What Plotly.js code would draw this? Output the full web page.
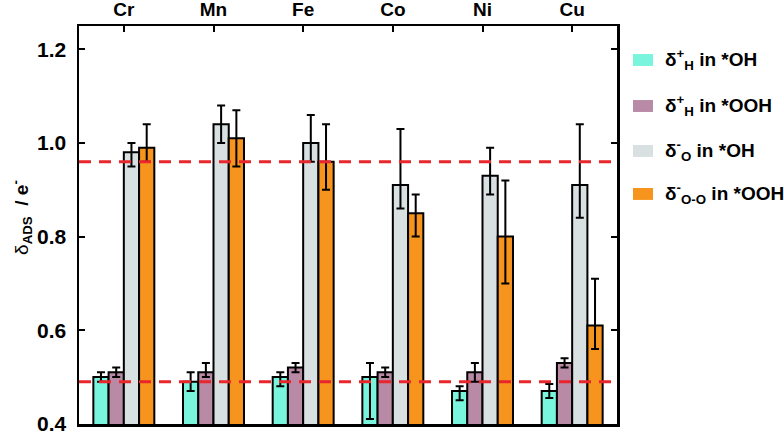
<!DOCTYPE html>
<html>
<head>
<meta charset="utf-8">
<script src="https://cdn.plot.ly/plotly-3.0.1.min.js"></script>
<style>html,body{margin:0;padding:0;background:#fff;}#chart{width:784px;height:434px;}</style>
</head>
<body>
<div id="chart"></div>
<script>
const categories = ['Cr', 'Mn', 'Fe', 'Co', 'Ni', 'Cu'];

const seriesNames = ['δ<sup>+</sup><sub>H</sub> in *OH', 'δ<sup>+</sup><sub>H</sub> in *OOH', 'δ<sup>-</sup><sub>O</sub> in *OH', 'δ<sup>-</sup><sub>O-O</sub> in *OOH'];
const seriesColors = ['#78f5dc', '#b88aa6', '#d8e0e1', '#f7941d'];

const hInOH = [0.50, 0.49, 0.50, 0.50, 0.47, 0.47];
const hInOHPlus = [0.01, 0.02, 0.01, 0.03, 0.01, 0.015];
const hInOHMinus = [0.01, 0.02, 0.02, 0.09, 0.02, 0.015];

const hInOOH = [0.51, 0.51, 0.52, 0.51, 0.51, 0.53];
const hInOOHPlus = [0.01, 0.02, 0.01, 0.01, 0.02, 0.01];
const hInOOHMinus = [0.01, 0.01, 0.01, 0.01, 0.02, 0.01];

const oInOH = [0.98, 1.04, 1.00, 0.91, 0.93, 0.91];
const oInOHPlus = [0.02, 0.04, 0.06, 0.12, 0.06, 0.13];
const oInOHMinus = [0.03, 0.04, 0.04, 0.05, 0.04, 0.07];

const ooInOOH = [0.99, 1.01, 0.96, 0.85, 0.80, 0.61];
const ooInOOHPlus = [0.05, 0.06, 0.08, 0.04, 0.12, 0.10];
const ooInOOHMinus = [0.03, 0.06, 0.06, 0.05, 0.10, 0.05];

const yTickVals = [0.4, 0.6, 0.8, 1.0, 1.2];
const yTickText = ['0.4', '0.6', '0.8', '1.0', '1.2'];
const yTitle = 'δ<b><sub>ADS</sub>  / e<sup>-</sup></b>';

const refLines = [0.96, 0.49];

const values = [hInOH, hInOOH, oInOH, ooInOOH];
const plus = [hInOHPlus, hInOOHPlus, oInOHPlus, ooInOOHPlus];
const minus = [hInOHMinus, hInOOHMinus, oInOHMinus, ooInOOHMinus];

const traces = values.map((v, i) => ({
  type: 'bar',
  x: categories,
  y: v,
  name: seriesNames[i],
  showlegend: false,
  marker: {color: seriesColors[i], line: {color: '#000', width: 2}},
  error_y: {type: 'data', symmetric: false, array: plus[i], arrayminus: minus[i],
            color: '#000', thickness: 2, width: 4}
}));

const shapes = refLines.map(y => ({
  type: 'line', xref: 'paper', yref: 'y', x0: 0, x1: 1, y0: y, y1: y,
  line: {color: '#e8262b', width: 3, dash: '12px,8px'}, layer: 'above'
}));

const legY = [0.9146, 0.799, 0.686, 0.578];
const annotations = [];
seriesNames.forEach((n, i) => {
  shapes.push({type: 'rect', xref: 'paper', yref: 'paper',
    x0: 1.0297, x1: 1.0669, y0: legY[i] - 0.015, y1: legY[i] + 0.015,
    fillcolor: seriesColors[i], line: {width: 0}});
  annotations.push({xref: 'paper', yref: 'paper', x: 1.0855, y: legY[i],
    xanchor: 'left', yanchor: 'middle', text: '<b>' + n + '</b>', showarrow: false,
    font: {size: 19, color: '#000', family: 'Liberation Sans, Arial, sans-serif'}});
});
annotations.push({xref: 'paper', yref: 'paper', x: -0.108, y: 0.52,
  xanchor: 'center', yanchor: 'middle', textangle: -90, text: yTitle, showarrow: false,
  font: {size: 19, color: '#000', family: 'Liberation Sans, Arial, sans-serif'}});

const layout = {
  width: 784, height: 434,
  margin: {l: 79, r: 167, t: 26, b: 10},
  paper_bgcolor: '#fff', plot_bgcolor: '#fff',
  barmode: 'group', bargap: 0.32, bargroupgap: 0,
  font: {family: 'Liberation Sans, Arial, sans-serif', color: '#000'},
  xaxis: {
    side: 'top', type: 'category', range: [-0.5, 5.5],
    ticks: 'inside', ticklen: 6, tickwidth: 2, tickcolor: '#000',
    showline: true, linewidth: 2.5, linecolor: '#000', mirror: true,
    showgrid: false, zeroline: false,
    tickfont: {size: 19, family: 'Liberation Sans, Arial, sans-serif', weight: 'bold'},
    tickprefix: '<b>', ticksuffix: '</b>'
  },
  yaxis: {
    range: [0.3995, 1.25], tickmode: 'array', tickvals: yTickVals, ticktext: yTickText,
    ticks: 'inside', ticklen: 6, tickwidth: 2, tickcolor: '#000',
    showline: true, linewidth: 2.5, linecolor: '#000', mirror: 'ticks',
    showgrid: false, zeroline: false, ticklabelstandoff: 6, ticklabeloverflow: 'allow',
    tickfont: {size: 21, family: 'Liberation Sans, Arial, sans-serif', weight: 'bold'}
  },
  shapes: shapes,
  annotations: annotations
};

Plotly.newPlot('chart', traces, layout, {displayModeBar: false, staticPlot: true});
</script>
</body>
</html>
